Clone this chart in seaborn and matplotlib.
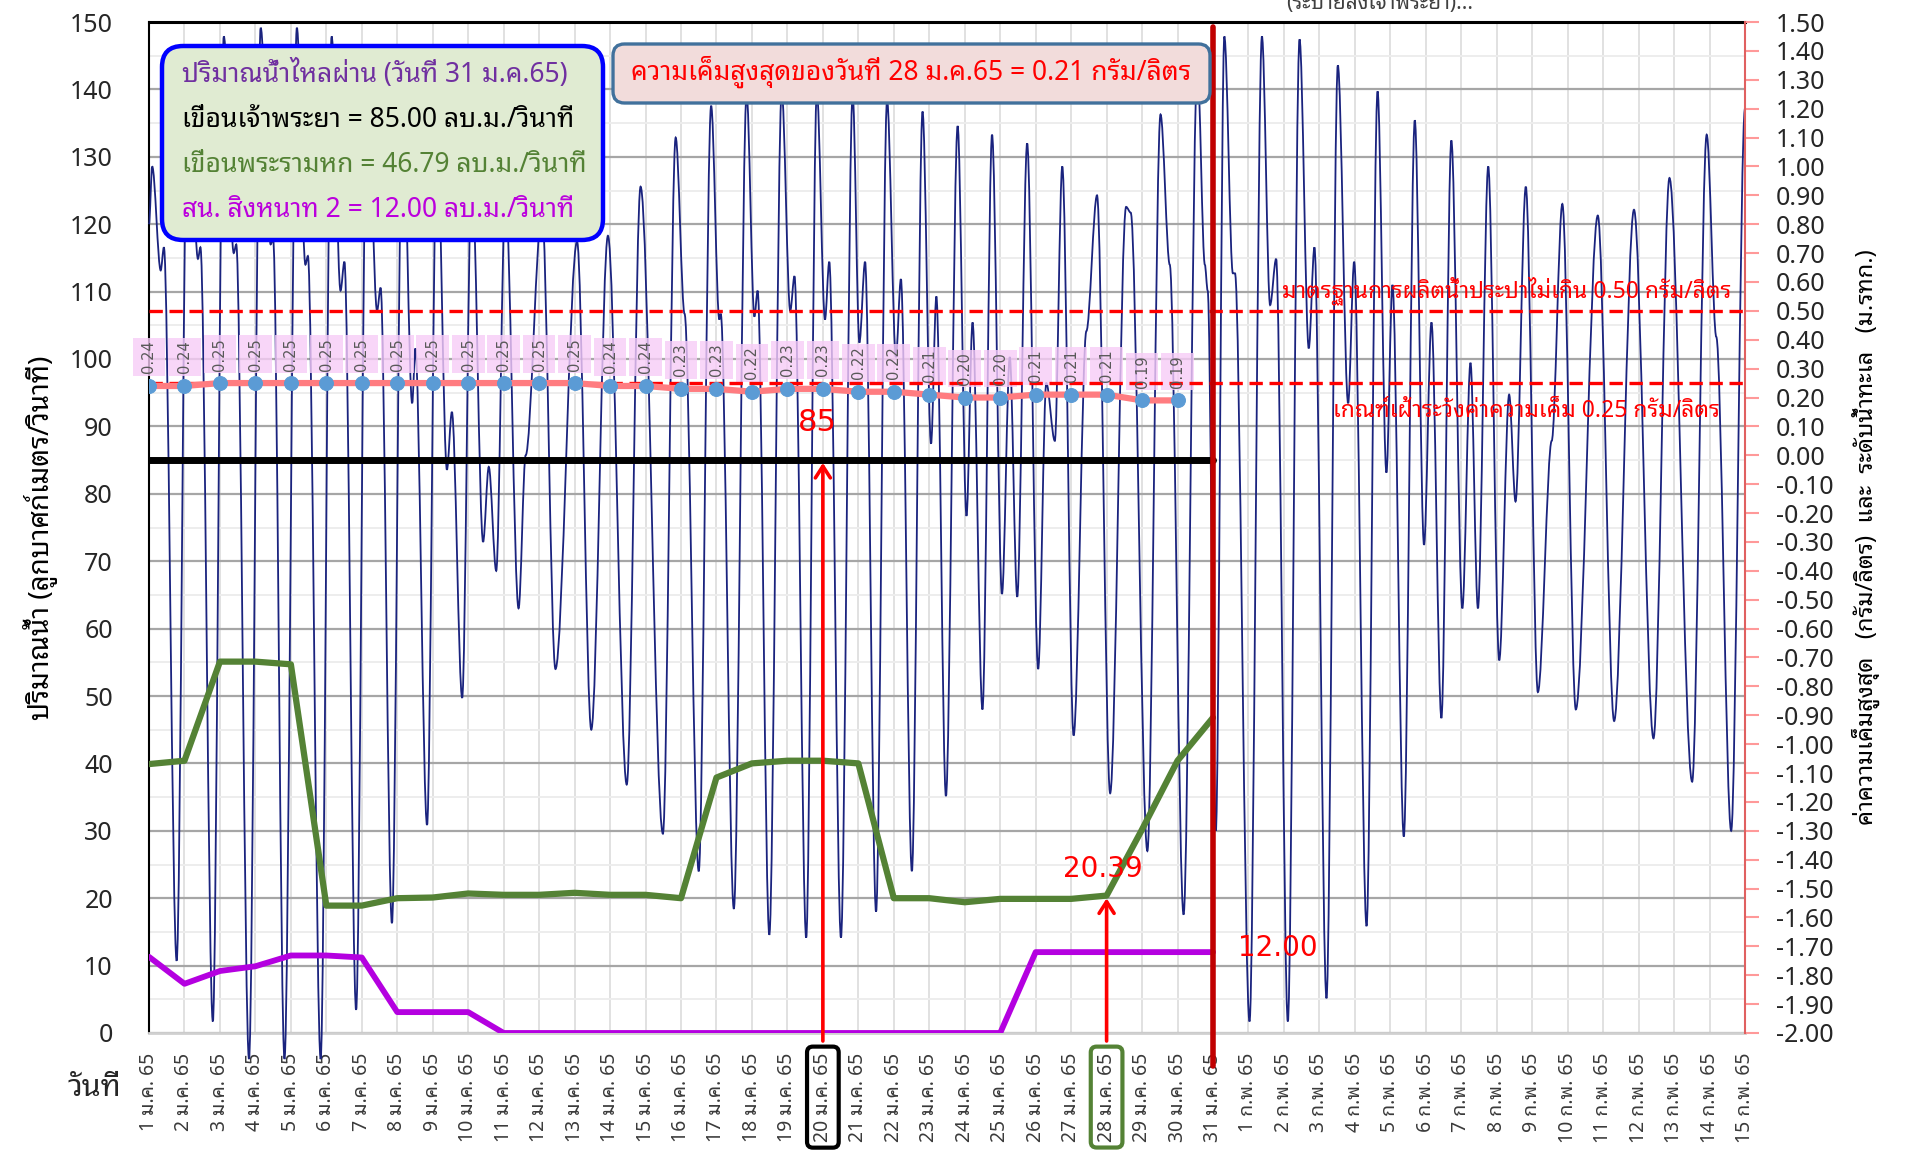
import numpy as np
import pandas as pd
import matplotlib
matplotlib.use("Agg")
import matplotlib.pyplot as plt
import seaborn as sns
from matplotlib.patches import FancyBboxPatch, PathPatch
from matplotlib.path import Path
from matplotlib.ticker import MultipleLocator, FormatStrFormatter

# === Data ===
jan_labels = [f"{d} ม.ค. 65" for d in range(1, 32)]
feb_labels = [f"{d} ก.พ. 65" for d in range(1, 16)]
day_labels = jan_labels + feb_labels

# daily flow 1-31 Jan (ลบ.ม./วินาที)
flow_days = list(range(1, 32))
chaophraya_flow = [85.0] * 31
pasak_flow = [39.9, 40.4, 55.1, 55.1, 54.7, 18.9, 18.9, 20.0, 20.1, 20.7,
              20.5, 20.5, 20.8, 20.5, 20.5, 20.0, 37.9, 40.0, 40.4, 40.4,
              40.0, 20.0, 20.0, 19.4, 19.9, 19.9, 19.9, 20.39, 30.2, 40.4, 46.79]
singhanat_flow = [11.3, 7.3, 9.2, 9.9, 11.5, 11.5, 11.2, 3.1, 3.1, 3.1,
                  0.0, 0.0, 0.0, 0.0, 0.0, 0.0, 0.0, 0.0, 0.0, 0.0,
                  0.0, 0.0, 0.0, 0.0, 0.0, 12.0, 12.0, 12.0, 12.0, 12.0, 12.0]

# max salinity 1-30 Jan (กรัม/ลิตร)
salinity_days = list(range(1, 31))
salinity = [0.24, 0.24, 0.25, 0.25, 0.25, 0.25, 0.25, 0.25, 0.25, 0.25,
            0.25, 0.25, 0.25, 0.24, 0.24, 0.23, 0.23, 0.22, 0.23, 0.23,
            0.22, 0.22, 0.21, 0.20, 0.20, 0.21, 0.21, 0.21, 0.19, 0.19]

# sea level turning points (ม.รทก.), x = day index (1 = 1 ม.ค.)
tide_day = [1.00, 1.09, 1.33, 1.42, 1.78, 2.10, 2.38, 2.45, 2.80, 3.11,
            3.39, 3.46, 3.82, 4.15, 4.43, 4.50, 4.82, 5.17, 5.41, 5.48,
            5.84, 6.15, 6.40, 6.51, 6.84, 7.15, 7.43, 7.53, 7.85, 8.15,
            8.42, 8.51, 8.84, 9.12, 9.40, 9.54, 9.83, 10.10, 10.42, 10.58,
            10.79, 11.05, 11.42, 11.62, 12.08, 12.46, 13.07, 13.47, 13.94, 14.47,
            14.86, 15.49, 15.85, 16.10, 16.50, 16.85, 17.08, 17.12, 17.49, 17.85,
            18.07, 18.16, 18.49, 18.84, 19.08, 19.20, 19.53, 19.83, 20.06, 20.18,
            20.51, 20.84, 21.03, 21.19, 21.50, 21.81, 22.06, 22.20, 22.51, 22.81,
            23.05, 23.20, 23.47, 23.80, 24.05, 24.22, 24.50, 24.77, 25.05, 25.27,
            25.48, 25.76, 26.07, 26.30, 26.54, 26.75, 27.07, 27.43, 27.73, 28.10,
            28.55, 28.68, 29.15, 29.52, 29.78, 30.17, 30.56, 30.77, 30.85, 31.08,
            31.32, 31.56, 31.62, 32.03, 32.38, 32.61, 32.78, 33.11, 33.44, 33.70,
            33.86, 34.20, 34.52, 34.81, 34.98, 35.33, 35.64, 35.89, 36.06, 36.38,
            36.69, 36.95, 37.16, 37.44, 37.72, 38.03, 38.26, 38.47, 38.76, 39.07,
            39.35, 39.53, 39.82, 40.16, 40.55, 40.85, 41.23, 41.85, 42.31, 42.87,
            43.42, 43.87, 44.51, 44.92, 45.19, 45.61, 46.00]
tide_level = [0.80, 1.00, 0.64, 0.72, -1.75, 1.38, 0.68, 0.72, -1.96, 1.45,
              0.70, 0.73, -2.09, 1.48, 0.73, 0.75, -2.09, 1.48, 0.66, 0.69,
              -2.09, 1.45, 0.57, 0.67, -1.92, 1.35, 0.50, 0.58, -1.62, 1.25,
              0.18, 0.37, -1.28, 1.12, -0.05, 0.15, -0.84, 1.00, -0.30, -0.04,
              -0.40, 0.92, -0.53, 0.00, 0.85, -0.74, 0.74, -0.95, 0.76, -1.14,
              0.93, -1.31, 1.10, 0.49, -1.44, 1.21, 0.47, 0.49, -1.57, 1.25,
              0.48, 0.57, -1.66, 1.26, 0.50, 0.62, -1.67, 1.26, 0.47, 0.67,
              -1.67, 1.25, 0.39, 0.67, -1.58, 1.23, 0.34, 0.61, -1.44, 1.19,
              0.04, 0.55, -1.18, 1.14, -0.21, 0.46, -0.88, 1.11, -0.48, 0.34,
              -0.49, 1.08, -0.74, 0.25, 0.05, 1.00, -0.97, 0.43, 0.90, -1.17,
              0.86, 0.84, -1.37, 1.18, 0.66, -1.59, 1.35, 0.66, 0.57, -1.30,
              1.45, 0.63, 0.63, -1.96, 1.45, 0.52, 0.68, -1.96, 1.44, 0.37,
              0.72, -1.88, 1.35, 0.18, 0.67, -1.63, 1.26, -0.06, 0.59, -1.32,
              1.16, -0.31, 0.46, -0.91, 1.09, -0.53, 0.32, -0.53, 1.00, -0.71,
              0.21, -0.16, 0.93, -0.82, 0.05, 0.87, -0.88, 0.83, -0.92, 0.85,
              -0.98, 0.96, -1.13, 1.11, 0.41, -1.30, 1.20]

W, H = 1911, 1153

sns.set_theme(style="white")
plt.rcParams["font.family"] = ["Noto Sans Thai Looped", "DejaVu Sans"]
plt.rcParams["axes.unicode_minus"] = False


def fx(px):
    return px / W


def fy(py):
    return 1 - py / H


def smooth_path(xs, ys):
    """Excel-like smoothed line through the turning points (cubic segments, flat at each point)"""
    verts = [(xs[0], ys[0])]
    codes = [Path.MOVETO]
    for x0, y0, x1, y1 in zip(xs[:-1], ys[:-1], xs[1:], ys[1:]):
        dx = (x1 - x0) / 3
        verts += [(x0 + dx, y0), (x1 - dx, y1), (x1, y1)]
        codes += [Path.CURVE4] * 3
    return Path(verts, codes)


# === Figure ===
fig = plt.figure(figsize=(W / 100, H / 100), dpi=100)
ax = fig.add_axes([fx(149), fy(1033), fx(1745) - fx(149), fy(22) - fy(1033)])
ax2 = ax.twinx()

ax.set_xlim(1, 46)
ax.set_ylim(0, 150)
ax2.set_ylim(-2.0, 1.5)

# grid on the flow axis
ax.yaxis.set_major_locator(MultipleLocator(10))
ax.yaxis.set_minor_locator(MultipleLocator(5))
ax.set_xticks(range(1, len(day_labels) + 1))
ax.set_xticklabels(day_labels, rotation=90, fontsize=14, color="#3A3A3A")
ax.grid(which="major", axis="y", color="#A6A6A6", lw=1.6)
ax.grid(which="minor", axis="y", color="#EDEDED", lw=1.4)
ax.grid(which="major", axis="x", color="#DCDCDC", lw=1.2)
ax.tick_params(axis="y", which="both", length=0, labelsize=18, pad=26)
ax.tick_params(axis="x", length=8, color="#D0D0D0", width=1.2, pad=6)
ax.set_axisbelow(True)
ax.spines["left"].set_color("black")
ax.spines["left"].set_linewidth(1.5)
ax.spines["top"].set_color("black")
ax.spines["top"].set_linewidth(2.2)
ax.spines["bottom"].set_color("#D0D0D0")
ax.spines["bottom"].set_linewidth(2)
ax.spines["right"].set_visible(False)

ax2.yaxis.set_major_locator(MultipleLocator(0.1))
ax2.yaxis.set_major_formatter(FormatStrFormatter("%.2f"))
ax2.tick_params(axis="y", length=10, width=1.5, color="#FF9999", labelsize=18, pad=12)
ax2.spines["right"].set_color("#E06060")
ax2.spines["right"].set_linewidth(1.5)
for side in ["left", "top", "bottom"]:
    ax2.spines[side].set_visible(False)
ax2.grid(False)

# sea level (smoothed through the turning points)
ax2.add_patch(PathPatch(smooth_path(tide_day, tide_level), fill=False,
                        ec="#1A237E", lw=1.3, zorder=2, clip_on=False))

# flows (left scale, drawn on top layer)
ax2.plot(flow_days, chaophraya_flow, transform=ax.transData, color="black", lw=5, zorder=4)
ax2.plot(flow_days, pasak_flow, transform=ax.transData, color="#548235", lw=4.5, zorder=4)
ax2.plot(flow_days, singhanat_flow, transform=ax.transData, color="#B400E0", lw=4.2, zorder=4)

# thresholds
ax2.axhline(0.50, color="#FF0000", lw=2.4, ls=(0, (4, 2)), zorder=5)
ax2.axhline(0.25, color="#FF0000", lw=2.4, ls=(0, (4, 2)), zorder=5)

# salinity with pink label band
ax2.bar(salinity_days, 0.13, bottom=[v + 0.035 for v in salinity], width=0.92,
        color="#F7CCF7", alpha=0.8, zorder=3, linewidth=0, clip_on=False)
sns.lineplot(x=salinity_days, y=salinity, ax=ax2, color="#FF7C80", lw=4.5,
             marker="o", markersize=10, markerfacecolor="#5B9BD5",
             markeredgecolor="#5B9BD5", zorder=6)
for d, v in zip(salinity_days, salinity):
    ax2.annotate(f"{v:.2f}", xy=(d, v), xytext=(0, 9), textcoords="offset points",
                 rotation=90, ha="center", va="bottom", fontsize=10.5,
                 color="#595959", zorder=7, family="DejaVu Sans")

ax2.text(45.6, 0.52, "มาตรฐานการผลิตน้ำประปาไม่เกิน 0.50 กรัม/ลิตร", color="#FF0000",
         fontsize=16.5, ha="right", va="bottom", zorder=8)
ax2.text(45.3, 0.155, "เกณฑ์เฝ้าระวังค่าความเค็ม 0.25 กรัม/ลิตร", color="#FF0000",
         fontsize=16.5, ha="right", va="center", zorder=8)

# markers of the reported flows
arrow = dict(arrowstyle="->,head_width=0.45,head_length=0.7", color="#FF0000", lw=2.6)
ax2.annotate("", xy=(20, 85), xycoords=ax.transData, xytext=(20, -1.6),
             textcoords=ax.transData, arrowprops=arrow, annotation_clip=False, zorder=8)
ax2.annotate("", xy=(28, 20.39), xycoords=ax.transData, xytext=(28, -1.6),
             textcoords=ax.transData, arrowprops=arrow, annotation_clip=False, zorder=8)
ax2.text(19.85, 88.5, "85", transform=ax.transData, color="#FF0000", fontsize=22,
         ha="center", va="bottom", zorder=8, family="DejaVu Sans")
ax2.text(27.9, 24.4, "20.39", transform=ax.transData, color="#FF0000", fontsize=20,
         ha="center", va="center", zorder=8, family="DejaVu Sans")
ax2.text(31.7, 12.6, "12.00", transform=ax.transData, color="#FF0000", fontsize=20,
         ha="left", va="center", zorder=8, family="DejaVu Sans")
ax2.axvline(31, ymin=-0.033, ymax=0.995, color="#C00000", lw=4, clip_on=False, zorder=7)

# boxed tick labels
xlabels = ax.get_xticklabels()
xlabels[19].set_bbox(dict(boxstyle="round,pad=0.3", fc="white", ec="black", lw=3))
xlabels[27].set_bbox(dict(boxstyle="round,pad=0.3", fc="white", ec="#548235", lw=3))

# axis titles
ax.set_ylabel("ปริมาณน้ำ (ลูกบาศก์เมตร/วินาที)", fontsize=20, color="black")
ax.yaxis.set_label_coords(-0.057, 0.49)
ax2.set_ylabel("ค่าความเค็มสูงสุด   (กรัม/ลิตร)  และ  ระดับน้ำทะเล   (ม.รทก.)",
               fontsize=17, color="black", rotation=90)
ax2.yaxis.set_label_coords(1.067, 0.49)
ax.set_xlabel("")
fig.text(fx(94), fy(1088), "วันที่", fontsize=22, fontweight="bold", ha="center", va="center")
fig.text(fx(1380), fy(9), "(ระบายลงเจ้าพระยา)...", fontsize=15, color="#404040",
         ha="center", va="baseline")

# info boxes
aspect = W / H
fig.patches.append(FancyBboxPatch((fx(162), fy(240)), fx(603) - fx(162), fy(46) - fy(240),
                                  boxstyle="round,pad=0,rounding_size=0.011",
                                  mutation_aspect=aspect, transform=fig.transFigure,
                                  fc="#E0EBD2", ec="#0000FF", lw=3.2, zorder=10))
legend_lines = [("ปริมาณน้ำไหลผ่าน (วันที่ 31 ม.ค.65)", "#7030A0", 74),
                ("เขื่อนเจ้าพระยา = 85.00 ลบ.ม./วินาที", "black", 120),
                ("เขื่อนพระรามหก = 46.79 ลบ.ม./วินาที", "#548235", 165),
                ("สน. สิงหนาท 2 = 12.00 ลบ.ม./วินาที", "#BB00DD", 210)]
for txt, col, py in legend_lines:
    fig.text(fx(182), fy(py), txt, color=col, fontsize=19, ha="left", va="center", zorder=11)

fig.patches.append(FancyBboxPatch((fx(613), fy(103)), fx(1210) - fx(613), fy(44) - fy(103),
                                  boxstyle="round,pad=0,rounding_size=0.006",
                                  mutation_aspect=aspect, transform=fig.transFigure,
                                  fc="#F2DCDB", ec="#41719C", lw=2.4, zorder=10))
fig.text(fx(911), fy(72), "ความเค็มสูงสุดของวันที่ 28 ม.ค.65 = 0.21 กรัม/ลิตร",
         color="#FF0000", fontsize=19, ha="center", va="center", zorder=11)

fig.savefig("out.png", dpi=100)
